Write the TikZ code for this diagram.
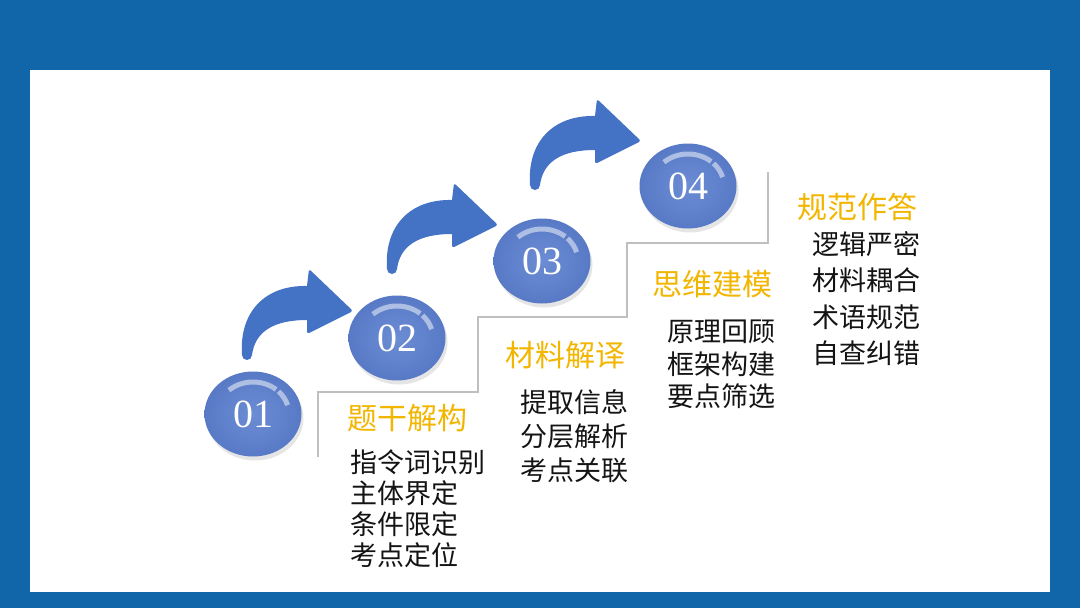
\documentclass[tikz,border=0pt]{standalone}
\usepackage{fontspec}
\newfontfamily\cjk{Noto Sans CJK SC}
\newfontfamily\numf{Liberation Serif}
\usetikzlibrary{shapes.geometric,shadows}
\definecolor{bgblue}{RGB}{17,102,170}
\definecolor{arrowblue}{RGB}{68,114,196}
\definecolor{ballin}{RGB}{108,140,212}
\definecolor{ballout}{RGB}{88,122,198}
\definecolor{gold}{RGB}{242,182,0}
\definecolor{stepgray}{RGB}{191,191,191}
\definecolor{bodytext}{RGB}{20,20,20}
\tikzset{
  ball/.style={ellipse, minimum width=97pt, minimum height=85pt, inner sep=0pt,
    inner color=ballin, outer color=ballout, text=white,
    font=\numf\fontsize{40}{42}\selectfont,
    drop shadow={shadow xshift=2pt, shadow yshift=-4pt, opacity=.2, fill=black!50}},
  hl/.style={white, opacity=.5, line width=5pt},
  stepline/.style={stepgray, line width=2pt},
  titletext/.style={anchor=west, inner sep=0pt, text=gold, font=\cjk\fontsize{30}{32}\selectfont},
  bodyblock/.style={anchor=west, inner sep=0pt, align=left, text=bodytext},
  curvarrow/.pic={
    \fill[arrowblue] (-5,-3) .. controls (-8,-46) and (18,-73) .. (60,-72)
      [rounded corners=2.5pt] -- (62,-89) -- (106,-47) -- (60,-24) [sharp corners] -- (60,-38)
      .. controls (26,-38) and (8,-26) .. (5,-3)
      arc[start angle=0, end angle=180, radius=5] -- cycle;
  }
}
\begin{document}
\begin{tikzpicture}[x=1pt,y=-1pt]
\useasboundingbox (0,0) rectangle (1080,608);
\fill[bgblue] (0,0) rectangle (1080,608);
\fill[white] (30,70) rectangle (1050,592);

% step line
\draw[stepline] (318,457) -- (318,392) -- (478,392) -- (478,317) -- (627,317)
  -- (627,243) -- (768,243) -- (768,172);

\coordinate (c1) at (253,414);
\coordinate (c2) at (397,338);
\coordinate (c3) at (542,261);
\coordinate (c4) at (688,186);

\coordinate (a1) at (247,358);
\coordinate (a2) at (392,272);
\coordinate (a3) at (535,188);

\path (a1) pic {curvarrow};
\path (a2) pic {curvarrow};
\path (a3) pic {curvarrow};

\node[ball] (e1) at (c1) {01};
\node[ball] (e2) at (c2) {02};
\node[ball] (e3) at (c3) {03};
\node[ball] (e4) at (c4) {04};

\foreach \c in {c1,c2,c3,c4}{
  \draw[hl] ([shift={(-132:36 and 32)}]\c) arc[start angle=-132, end angle=-50, x radius=36, y radius=32];
  \draw[hl] ([shift={(-45:36 and 32)}]\c) arc[start angle=-45, end angle=-16, x radius=36, y radius=32];
}

\node[titletext] (t1) at (347,418) {题干解构};
\node[titletext] (t2) at (505,355) {材料解译};
\node[titletext] (t3) at (652,284) {思维建模};
\node[titletext] (t4) at (797,207) {规范作答};

\node[bodyblock, font=\cjk\fontsize{27}{31}\selectfont] (b1) at (350,509) {指令词识别\\主体界定\\条件限定\\考点定位};
\node[bodyblock, font=\cjk\fontsize{27}{34}\selectfont] (b2) at (520,436) {提取信息\\分层解析\\考点关联};
\node[bodyblock, font=\cjk\fontsize{27}{32.5}\selectfont] (b3) at (667,364.5) {原理回顾\\框架构建\\要点筛选};
\node[bodyblock, font=\cjk\fontsize{27}{36.5}\selectfont] (b4) at (812,298.5) {逻辑严密\\材料耦合\\术语规范\\自查纠错};
\end{tikzpicture}
\end{document}
